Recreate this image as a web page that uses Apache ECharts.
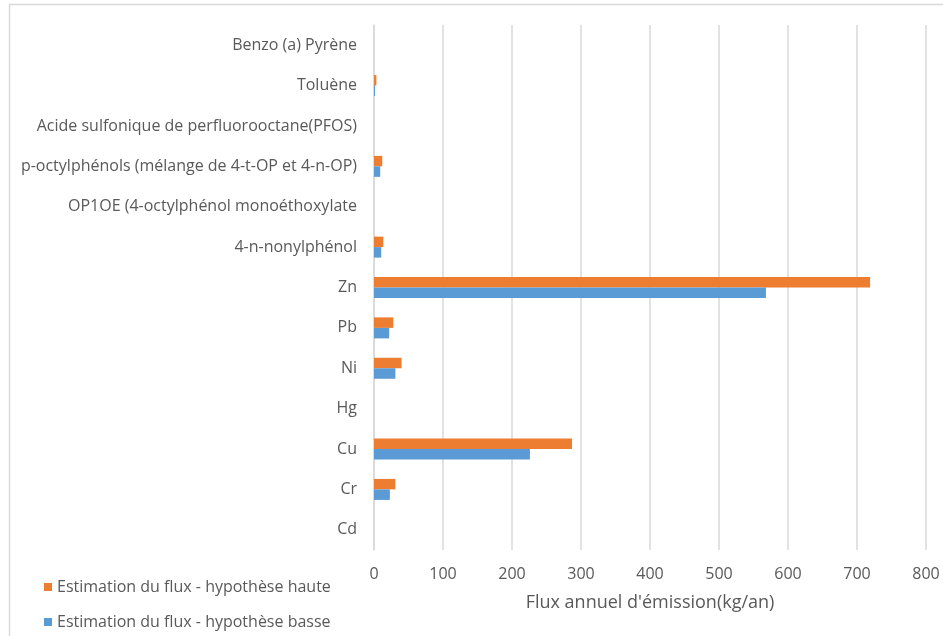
<!DOCTYPE html>
<html>
<head>
<meta charset="utf-8">
<script src="https://cdn.jsdelivr.net/npm/echarts@6/dist/echarts.min.js"></script>
<style>html,body{margin:0;padding:0;background:#fff;}#chart{width:943px;height:636px;}</style>
</head>
<body>
<div id="chart"></div>
<script>
const categories = ['Cd','Cr','Cu','Hg','Ni','Pb','Zn','4-n-nonylphénol','OP1OE (4-octylphénol monoéthoxylate','p-octylphénols (mélange de 4-t-OP et 4-n-OP)','Acide sulfonique de perfluorooctane(PFOS)','Toluène','Benzo (a) Pyrène'];
const hauteValues = [0, 31, 287, 0, 40, 28, 719, 13.5, 0, 12, 0, 3.4, 0];
const basseValues = [0, 23, 226, 0, 31, 22, 568, 10.5, 0, 9, 0, 1.5, 0];
const seriesNames = ['Estimation du flux - hypothèse haute', 'Estimation du flux - hypothèse basse'];
const xTicks = {min: 0, max: 800, interval: 100};

const chart = echarts.init(document.getElementById('chart'), null, {renderer: 'canvas'});
const FONT = 'Open Sans';
const TXT = '#595959';
chart.setOption({
  animation: false,
  textStyle: {fontFamily: FONT},
  graphic: [{
    type: 'rect', shape: {x: 9.5, y: 4.5, width: 1000, height: 1000},
    style: {fill: 'none', stroke: '#d9d9d9', lineWidth: 1.5}, silent: true
  }],
  grid: {left: 374, right: 17, top: 25, bottom: 86, containLabel: false},
  legend: {
    orient: 'vertical', left: 44, top: 579, padding: 0,
    data: [seriesNames[0], seriesNames[1]],
    itemWidth: 8, itemHeight: 8, itemGap: 19,
    icon: 'rect',
    textStyle: {fontFamily: FONT, fontSize: 16, color: TXT}
  },
  xAxis: {
    type: 'value', min: xTicks.min, max: xTicks.max, interval: xTicks.interval,
    name: "Flux annuel d'émission(kg/an)", nameLocation: 'middle', nameGap: 44,
    nameTextStyle: {fontFamily: FONT, fontSize: 18, color: TXT},
    axisLine: {show: false}, axisTick: {show: false},
    axisLabel: {fontFamily: FONT, fontSize: 16, color: TXT, margin: 16},
    splitLine: {show: true, lineStyle: {color: '#d9d9d9', width: 1.5}}
  },
  yAxis: {
    type: 'category', data: categories,
    axisLine: {show: true, lineStyle: {color: '#d9d9d9', width: 1.5}},
    axisTick: {show: false},
    axisLabel: {fontFamily: FONT, fontSize: 16, color: TXT, margin: 17}
  },
  series: [
    {name: seriesNames[0], type: 'bar', data: hauteValues, itemStyle: {color: '#ED7D31'}, barWidth: 10.5, barGap: '0%', barCategoryGap: '48%'},
    {name: seriesNames[1], type: 'bar', data: basseValues, itemStyle: {color: '#5B9BD5'}, barWidth: 10.5, barGap: '0%', barCategoryGap: '48%'}
  ]
});
</script>
</body>
</html>
